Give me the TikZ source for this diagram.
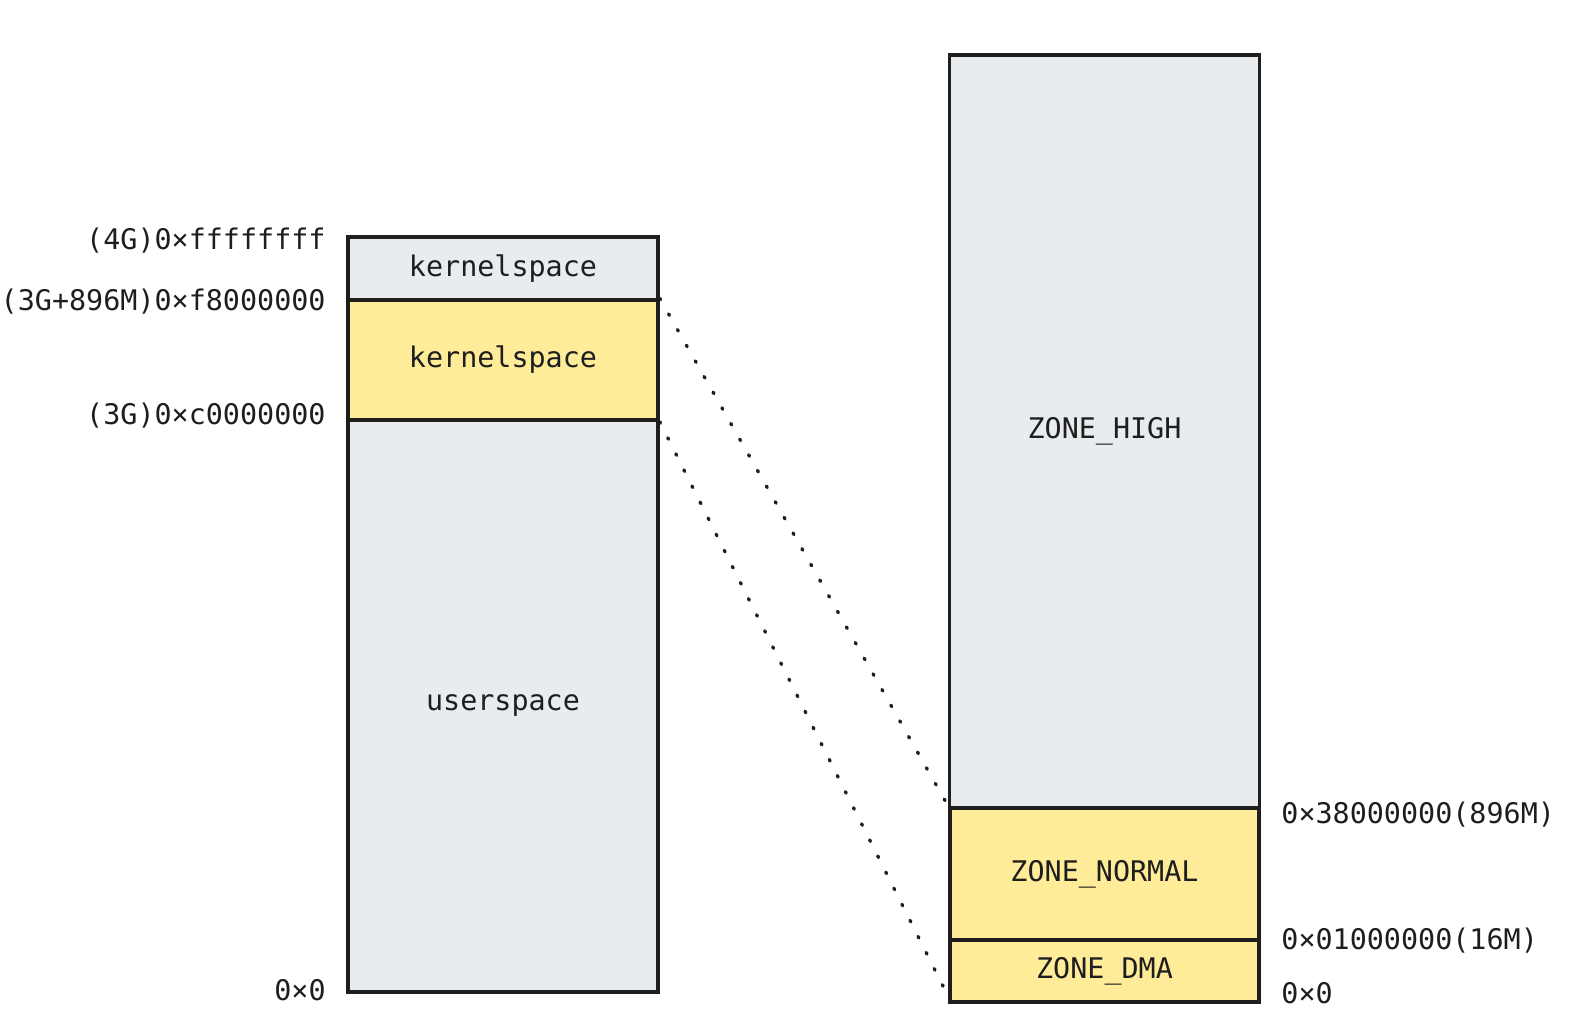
\documentclass[tikz,border=0pt]{standalone}
\usepackage{fontspec}
\setmainfont{DejaVu Sans Mono}
\definecolor{boxgray}{HTML}{E9ECEF}
\definecolor{boxyellow}{HTML}{FFEC99}
\definecolor{ink}{HTML}{1E1E1E}
\begin{document}
\begin{tikzpicture}[x=0.5pt,y=-0.5pt,
  font=\fontsize{14.2}{17}\selectfont,
  mem/.style={draw=ink,line width=1.7pt,inner sep=0pt,text=ink,minimum width=155pt},
  gray/.style={mem,fill=boxgray},
  yel/.style={mem,fill=boxyellow},
  addrl/.style={anchor=east,inner sep=0pt,text=ink},
  addrr/.style={anchor=west,inner sep=0pt,text=ink},
  link/.style={draw=ink,line width=1.7pt,line cap=round,dash pattern=on 0.8pt off 8.2pt}]
\useasboundingbox (0,0) rectangle (1581,1026);
% left column
\node[gray,minimum height=31.5pt] (k1) at (503,268.5) {kernelspace};
\node[yel,minimum height=60pt] (k2) at (503,360) {kernelspace};
\node[gray,minimum height=286pt] (us) at (503,706) {userspace};
% right column
\node[gray,minimum height=376.5pt] (zh) at (1104.5,431.5) {ZONE\_HIGH};
\node[yel,minimum height=66pt,minimum width=154.5pt] (zn) at (1104.5,874) {ZONE\_NORMAL};
\node[yel,minimum height=31pt,minimum width=154.5pt] (zd) at (1104.5,971) {ZONE\_DMA};
% left addresses
\node[addrl] (a1) at (326,241) {(4G)0×ffffffff};
\node[addrl] (a2) at (326,302) {(3G+896M)0×f8000000};
\node[addrl] (a3) at (326,416) {(3G)0×c0000000};
\node[addrl] (a4) at (326,990) {0×0};
% right addresses
\node[addrr] (b1) at (1281,815) {0×38000000(896M)};
\node[addrr] (b2) at (1281,941) {0×01000000(16M)};
\node[addrr] (b3) at (1281,993) {0×0};
% mapping lines
\coordinate (dmaend) at (948,996);
\draw[link] (k2.north east) -- (zn.north west);
\draw[link] (k2.south east) -- (dmaend);
\end{tikzpicture}
\end{document}
